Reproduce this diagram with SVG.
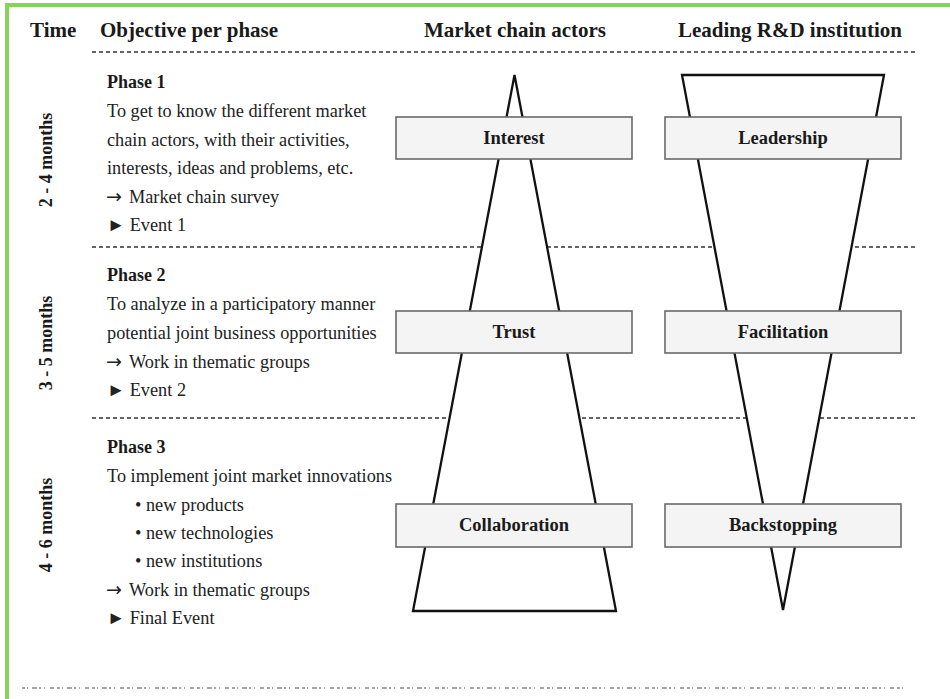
<svg xmlns="http://www.w3.org/2000/svg" width="950" height="699" viewBox="0 0 950 699">
<style>
.hdr{font-family:"Liberation Serif","Times New Roman",serif;font-weight:bold;font-size:21px;fill:#1a1a1a}
.ph{font-family:"Liberation Serif","Times New Roman",serif;font-weight:bold;font-size:18px;fill:#1a1a1a}
.tx{font-family:"Liberation Serif","Times New Roman",serif;font-size:18.3px;fill:#222}
.ar{font-family:"DejaVu Sans",sans-serif;font-size:19px;fill:#222}
.vt{font-family:"Liberation Serif","Times New Roman",serif;font-weight:bold;font-size:18px;fill:#1a1a1a;text-anchor:middle}
.lbl{font-family:"Liberation Serif","Times New Roman",serif;font-weight:bold;font-size:18.5px;fill:#1a1a1a;text-anchor:middle}
.dash{stroke:#333;stroke-width:1.7;stroke-dasharray:4 3;fill:none}
.tri{fill:#fff;stroke:#111;stroke-width:2.3;stroke-linejoin:miter}
.box{fill:#f4f4f4;stroke:#6a6a6a;stroke-width:1.6}
</style>
<rect width="950" height="699" fill="#fff"/>
<path d="M7,699 V5 H950" fill="none" stroke="#86d25a" stroke-width="4"/>
<g id="grid">
<line class="dash" x1="92" y1="52" x2="916" y2="52"/>
<line class="dash" x1="92" y1="247" x2="916" y2="247"/>
<line class="dash" x1="92" y1="418" x2="916" y2="418"/>
</g>
<g id="headers">
<text class="hdr" x="30" y="37">Time</text>
<text class="hdr" x="100" y="37">Objective per phase</text>
<text class="hdr" x="515" y="37" text-anchor="middle">Market chain actors</text>
<text class="hdr" x="790" y="37" text-anchor="middle">Leading R&amp;D institution</text>
</g>
<g id="time-labels">
<text class="vt" transform="translate(52,160) rotate(-90)">2 - 4 months</text>
<text class="vt" transform="translate(52,343) rotate(-90)">3 - 5 months</text>
<text class="vt" transform="translate(52,525) rotate(-90)">4 - 6 months</text>
</g>
<g id="phase1">
<text class="ph" x="107" y="88">Phase 1</text>
<text class="tx" x="107" y="117">To get to know the different market</text>
<text class="tx" x="107" y="145.5">chain actors, with their activities,</text>
<text class="tx" x="107" y="174">interests, ideas and problems, etc.</text>
<text class="tx" x="106" y="202.5"><tspan class="ar">→</tspan><tspan x="129">Market chain survey</tspan></text>
<text class="tx" x="107" y="231">► Event 1</text>
</g>
<g id="phase2">
<text class="ph" x="107" y="281">Phase 2</text>
<text class="tx" x="107" y="310">To analyze in a participatory manner</text>
<text class="tx" x="107" y="339">potential joint business opportunities</text>
<text class="tx" x="106" y="368"><tspan class="ar">→</tspan><tspan x="129">Work in thematic groups</tspan></text>
<text class="tx" x="107" y="396">► Event 2</text>
</g>
<g id="phase3">
<text class="ph" x="107" y="453">Phase 3</text>
<text class="tx" x="107" y="482">To implement joint market innovations</text>
<text class="tx" x="135" y="511">• new products</text>
<text class="tx" x="135" y="539">• new technologies</text>
<text class="tx" x="135" y="567">• new institutions</text>
<text class="tx" x="106" y="596"><tspan class="ar">→</tspan><tspan x="129">Work in thematic groups</tspan></text>
<text class="tx" x="107" y="624">► Final Event</text>
</g>
<g id="connectors">
<polygon id="market-triangle" class="tri" points="514.5,75 616,611 413,611"/>
<polygon id="rd-triangle" class="tri" points="682,75 884,75 783,610"/>
</g>
<g id="interest"><rect class="box" x="396" y="117" width="236" height="42"/><text class="lbl" x="514" y="144">Interest</text></g>
<g id="leadership"><rect class="box" x="665" y="117" width="236" height="42"/><text class="lbl" x="783" y="144">Leadership</text></g>
<g id="trust"><rect class="box" x="396" y="311" width="236" height="42"/><text class="lbl" x="514" y="338">Trust</text></g>
<g id="facilitation"><rect class="box" x="665" y="311" width="236" height="42"/><text class="lbl" x="783" y="338">Facilitation</text></g>
<g id="collaboration"><rect class="box" x="396" y="504" width="236" height="43"/><text class="lbl" x="514" y="531">Collaboration</text></g>
<g id="backstopping"><rect class="box" x="665" y="504" width="236" height="43"/><text class="lbl" x="783" y="531">Backstopping</text></g>
<line x1="22" y1="688" x2="905" y2="688" stroke="#888" stroke-width="1.4" stroke-dasharray="3 2 1 4 5 2 2 3 1 5 4 3"/>
</svg>
